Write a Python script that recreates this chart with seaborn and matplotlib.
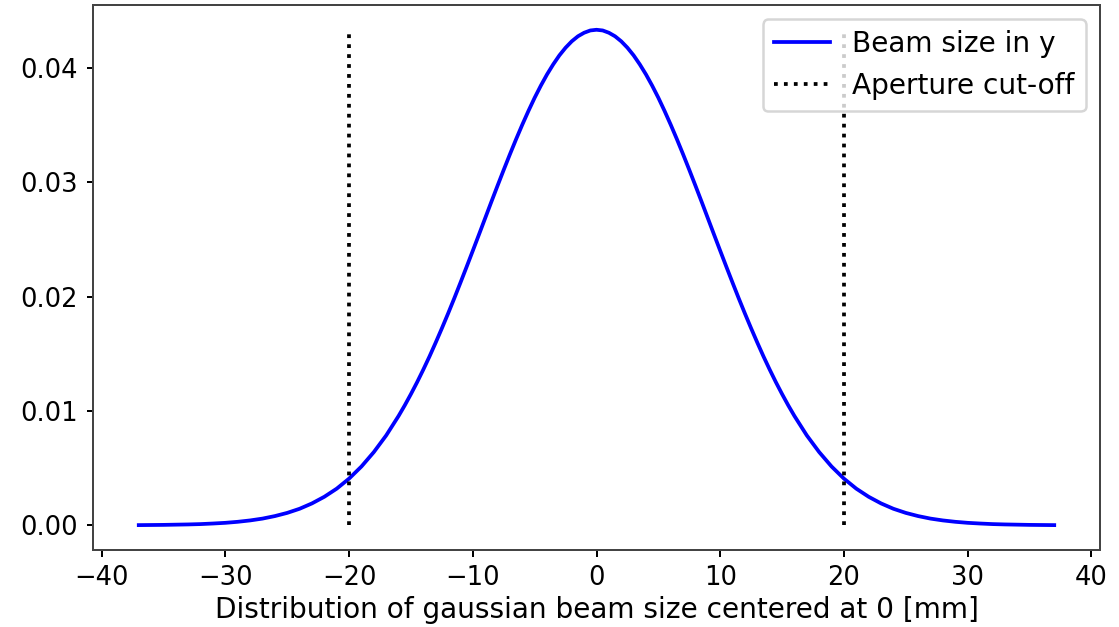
import matplotlib
matplotlib.use("Agg")
import matplotlib.pyplot as plt
import seaborn as sns
import pandas as pd

# valores (mm, densidade)
posicao_mm = [-37, -36, -35, -34, -33, -32, -31, -30, -29, -28, -27, -26, -25,
              -24, -23, -22, -21, -20, -19, -18, -17,
              -16, -15.5, -15, -14.5, -14, -13.5, -13, -12.5, -12, -11.5, -11,
              -10.5, -10, -9.5, -9, -8.5, -8, -7.5, -7, -6.5, -6, -5.5, -5,
              -4.5, -4, -3.5, -3, -2.5, -2, -1.5, -1, -0.5, 0,
              0.5, 1, 1.5, 2, 2.5, 3, 3.5, 4, 4.5, 5, 5.5, 6, 6.5, 7, 7.5, 8,
              8.5, 9, 9.5, 10, 10.5, 11, 11.5, 12, 12.5, 13, 13.5, 14, 14.5,
              15, 15.5, 16,
              17, 18, 19, 20, 21, 22, 23, 24, 25, 26, 27, 28, 29, 30, 31, 32,
              33, 34, 35, 36, 37]
densidade = [0.00001, 0.00002, 0.00003, 0.00005, 0.00007, 0.00010, 0.00015,
             0.00021, 0.00030, 0.00042, 0.00058, 0.00080, 0.00108, 0.00144,
             0.00191, 0.00249, 0.00320, 0.00408, 0.00514, 0.00640, 0.00786,
             0.00956, 0.01049, 0.01148, 0.01252, 0.01362, 0.01477, 0.01598,
             0.01723, 0.01852, 0.01985, 0.02122, 0.02261, 0.02402, 0.02544,
             0.02687, 0.02830, 0.02971, 0.03110, 0.03246, 0.03378, 0.03505,
             0.03626, 0.03741, 0.03847, 0.03945, 0.04033, 0.04112, 0.04179,
             0.04235, 0.04279, 0.04310, 0.04330, 0.04336,
             0.04330, 0.04310, 0.04279, 0.04235, 0.04179, 0.04112, 0.04033,
             0.03945, 0.03847, 0.03741, 0.03626, 0.03505, 0.03378, 0.03246,
             0.03110, 0.02971, 0.02830, 0.02687, 0.02544, 0.02402, 0.02261,
             0.02122, 0.01985, 0.01852, 0.01723, 0.01598, 0.01477, 0.01362,
             0.01252, 0.01148, 0.01049, 0.00956,
             0.00786, 0.00640, 0.00514, 0.00408, 0.00320, 0.00249, 0.00191,
             0.00144, 0.00108, 0.00080, 0.00058, 0.00042, 0.00030, 0.00021,
             0.00015, 0.00010, 0.00007, 0.00005, 0.00003, 0.00002, 0.00001]
corte_abertura = [-20, 20]

dados = pd.DataFrame({'x': posicao_mm, 'y': densidade})

fig, ax = plt.subplots(figsize=(1119 / 180, 627 / 180), dpi=180)
sns.lineplot(data=dados, x='x', y='y', color='blue', label='Beam size in y', ax=ax)
ax.vlines(corte_abertura, 0, max(densidade), colors='black', linestyles=':',
          label='Aperture cut-off')

ax.set_xlabel('Distribution of gaussian beam size centered at 0 [mm]', fontsize=11.2, labelpad=2)
ax.set_ylabel('')
ax.tick_params(labelsize=10.3, length=2.6)
for spine in ax.spines.values():
    spine.set_color('#444444')
ax.legend(loc='upper right', fontsize=11.2)

fig.subplots_adjust(left=93 / 1119, right=1100 / 1119, top=1 - 5 / 627, bottom=1 - 550 / 627)
fig.savefig('out.png', dpi=180)
